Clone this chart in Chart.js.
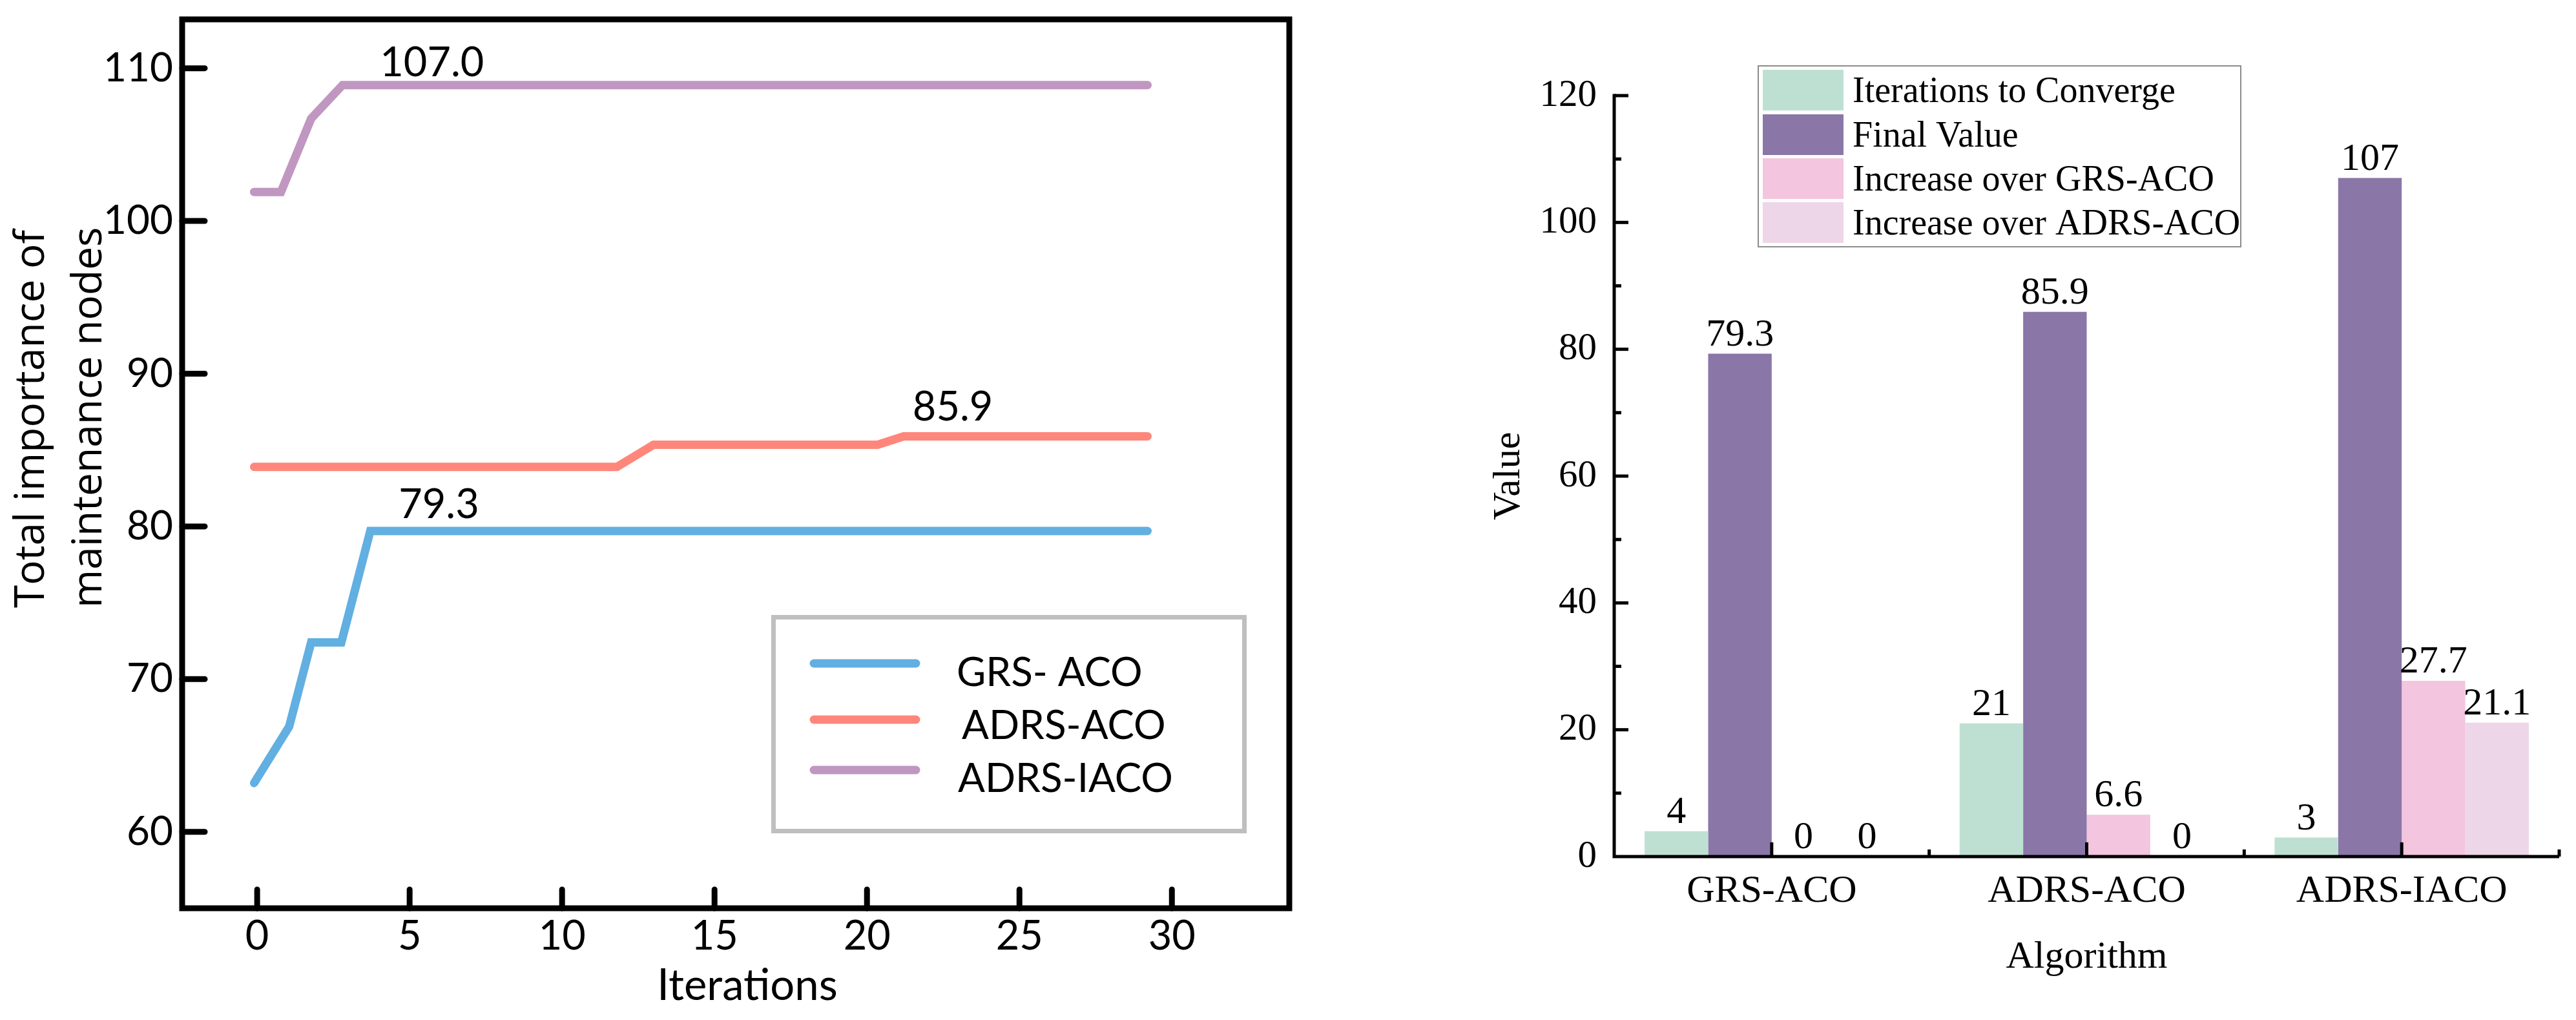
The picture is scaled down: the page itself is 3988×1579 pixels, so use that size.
<!DOCTYPE html>
<html>
<head>
<meta charset="utf-8">
<script src="https://cdn.jsdelivr.net/npm/chart.js@4.4.1/dist/chart.umd.min.js"></script>
<style>
  html, body { margin: 0; padding: 0; background: #fff; }
  #wrap { position: relative; width: 3988px; height: 1579px; overflow: hidden; }
  #lineBox { position: absolute; left: 0; top: 0; width: 2002px; height: 1579px; }
  #barBox { position: absolute; left: 2000px; top: 0; width: 1988px; height: 1579px; }
</style>
</head>
<body>
<div id="wrap">
  <div id="lineBox"><canvas id="lineCanvas" width="2002" height="1579"></canvas></div>
  <div id="barBox"><canvas id="barCanvas" width="1988" height="1579"></canvas></div>
</div>
<script>
// Left chart: convergence curves (vertices)
const grsX = [-0.1, 1.05, 1.77, 2.76, 3.71, 29.2];
const grsY = [63.2, 66.9, 72.4, 72.4, 79.7, 79.7];
const adrsX = [-0.1, 11.8, 13.0, 20.35, 21.2, 29.2];
const adrsY = [83.9, 83.9, 85.35, 85.35, 85.9, 85.9];
const iacoX = [-0.1, 0.78, 1.77, 2.8, 29.2];
const iacoY = [101.9, 101.9, 106.7, 108.9, 108.9];
const lineNames = ['GRS- ACO', 'ADRS-ACO', 'ADRS-IACO'];
const finalTags = ['79.3', '85.9', '107.0'];

// Right chart: comparison bars
const algorithms = ['GRS-ACO', 'ADRS-ACO', 'ADRS-IACO'];
const iterationsToConverge = [4, 21, 3];
const finalValue = [79.3, 85.9, 107];
const increaseOverGrs = [0, 6.6, 27.7];
const increaseOverAdrs = [0, 0, 21.1];
const barNames = ['Iterations to Converge', 'Final Value', 'Increase over GRS-ACO', 'Increase over ADRS-ACO'];

const sans = 'Lato, "Open Sans", sans-serif';
const serif = '"Liberation Serif", "Times New Roman", serif';

function pts(xs, ys) {
    return xs.map((x, i) => ({ x: x, y: ys[i] }));
}

// keep the plot area exactly where the layout padding puts it
function fixBox(size) {
    return function (s) {
        if (s.isHorizontal()) s.height = size; else s.width = size;
        s.paddingTop = 0; s.paddingBottom = 0; s.paddingLeft = 0; s.paddingRight = 0;
    };
}

// frame, inward ticks, legend, titles and value tags for the line chart
const lineDecor = {
    id: 'lineDecor',
    afterDraw(chart) {
        const ctx = chart.ctx;
        const a = chart.chartArea;
        const xs = chart.scales.x, ys = chart.scales.y;
        ctx.save();
        ctx.strokeStyle = '#000';
        ctx.lineCap = 'round';
        ctx.lineWidth = 9;
        ys.ticks.forEach(t => {
            const p = ys.getPixelForValue(t.value);
            ctx.beginPath(); ctx.moveTo(a.left, p); ctx.lineTo(a.left + 35, p); ctx.stroke();
        });
        xs.ticks.forEach(t => {
            const p = xs.getPixelForValue(t.value);
            ctx.beginPath(); ctx.moveTo(p, a.bottom); ctx.lineTo(p, a.bottom - 29); ctx.stroke();
        });
        ctx.lineCap = 'butt';
        ctx.strokeRect(a.left, a.top, a.right - a.left, a.bottom - a.top);

        // legend
        ctx.strokeStyle = '#BFBFBF';
        ctx.lineWidth = 7;
        ctx.strokeRect(1197.5, 955.5, 729, 331);
        const rowY = [1027, 1114, 1192];
        const textY = [1042, 1124, 1206];
        const textX = [1481, 1489, 1483];
        ctx.lineCap = 'round';
        ctx.lineWidth = 13;
        ctx.font = '62px ' + sans;
        ctx.textBaseline = 'middle';
        ctx.textAlign = 'left';
        chart.data.datasets.forEach((ds, i) => {
            ctx.strokeStyle = ds.borderColor;
            ctx.beginPath(); ctx.moveTo(1260, rowY[i]); ctx.lineTo(1418, rowY[i]); ctx.stroke();
            ctx.fillStyle = '#000';
            ctx.fillText(ds.label, textX[i], textY[i]);
        });

        // value tags next to the convergence points
        const anchors = [[0, 4, 44, -40], [1, 4, 14, -45], [2, 3, 58, -34]];
        ctx.font = '63px ' + sans;
        anchors.forEach(([d, idx, dx, dy]) => {
            const el = chart.getDatasetMeta(d).data[idx];
            ctx.fillText(finalTags[d], el.x + dx, el.y + dy);
        });

        // x axis title
        ctx.font = '67px ' + sans;
        ctx.textAlign = 'center';
        ctx.fillText('Iterations', 1157, 1526);

        // two-line y axis title
        ctx.font = '64px "Open Sans", sans-serif';
        ctx.textAlign = 'left';
        ctx.textBaseline = 'alphabetic';
        ctx.translate(68, 941);
        ctx.rotate(-Math.PI / 2);
        ctx.fillText('Total importance of', 0, 0);
        ctx.fillText('maintenance nodes', 0, 89);
        ctx.restore();
    }
};

new Chart(document.getElementById('lineCanvas'), {
    type: 'line',
    data: {
        datasets: [
            { label: lineNames[0], data: pts(grsX, grsY), borderColor: '#62AFE2' },
            { label: lineNames[1], data: pts(adrsX, adrsY), borderColor: '#FF867B' },
            { label: lineNames[2], data: pts(iacoX, iacoY), borderColor: '#C097C1' }
        ]
    },
    options: {
        responsive: false,
        animation: false,
        devicePixelRatio: 1,
        layout: { padding: { top: 30, right: 6, left: 0, bottom: 0 } },
        elements: {
            line: { borderWidth: 13, tension: 0, borderCapStyle: 'round', borderJoinStyle: 'miter', fill: false },
            point: { radius: 0, hoverRadius: 0 }
        },
        plugins: { legend: { display: false }, tooltip: { enabled: false } },
        scales: {
            x: {
                type: 'linear',
                min: -2.46,
                max: 33.85,
                grid: { display: false, drawTicks: false },
                border: { display: false },
                ticks: { stepSize: 5, includeBounds: false, color: '#000', padding: 6, font: { family: sans, size: 63 } },
                afterFit: fixBox(173)
            },
            y: {
                min: 55,
                max: 113.2,
                grid: { display: false, drawTicks: false },
                border: { display: false },
                ticks: { stepSize: 10, includeBounds: false, color: '#000', padding: 14, font: { family: sans, size: 62 } },
                afterFit: fixBox(282)
            }
        }
    },
    plugins: [lineDecor]
});

// axes, inward ticks, legend and bar value labels for the bar chart
const barDecor = {
    id: 'barDecor',
    afterDraw(chart) {
        const ctx = chart.ctx;
        const a = chart.chartArea;
        const xs = chart.scales.x, ys = chart.scales.y;
        ctx.save();
        ctx.strokeStyle = '#000';
        ctx.lineWidth = 5;
        ctx.beginPath();
        ctx.moveTo(a.left, ys.getPixelForValue(120) - 2.5);
        ctx.lineTo(a.left, a.bottom);
        ctx.lineTo(a.right, a.bottom);
        ctx.stroke();
        for (let v = 10; v <= 120; v += 10) {
            const p = ys.getPixelForValue(v);
            const len = v % 20 === 0 ? 22 : 11;
            ctx.beginPath(); ctx.moveTo(a.left, p); ctx.lineTo(a.left + len, p); ctx.stroke();
        }
        chart.data.labels.forEach((lab, i) => {
            let p = xs.getPixelForValue(i);
            ctx.beginPath(); ctx.moveTo(p, a.bottom); ctx.lineTo(p, a.bottom - 22); ctx.stroke();
            p = xs.getPixelForValue(i + 0.5);
            ctx.beginPath(); ctx.moveTo(p, a.bottom); ctx.lineTo(p, a.bottom - 11); ctx.stroke();
        });

        // value labels
        ctx.fillStyle = '#000';
        ctx.font = '60px ' + serif;
        ctx.textAlign = 'center';
        ctx.textBaseline = 'alphabetic';
        chart.data.datasets.forEach((ds, d) => {
            chart.getDatasetMeta(d).data.forEach((bar, i) => {
                ctx.fillText(String(ds.data[i]), bar.x, bar.y - 13);
            });
        });

        // legend
        ctx.strokeStyle = '#8C8C8C';
        ctx.lineWidth = 2;
        ctx.strokeRect(722, 102, 747, 280);
        const rowTop = [108, 177, 245, 313];
        ctx.font = '56px ' + serif;
        ctx.textAlign = 'left';
        chart.data.datasets.forEach((ds, d) => {
            ctx.fillStyle = ds.backgroundColor;
            ctx.fillRect(729, rowTop[d], 125, 63);
            ctx.fillStyle = '#000';
            ctx.fillText(ds.label, 868, rowTop[d] + 31.5 + 18);
        });
        ctx.restore();
    }
};

new Chart(document.getElementById('barCanvas'), {
    type: 'bar',
    data: {
        labels: algorithms,
        datasets: [
            { label: barNames[0], data: iterationsToConverge, backgroundColor: '#BEE0D2' },
            { label: barNames[1], data: finalValue, backgroundColor: '#8B76A8' },
            { label: barNames[2], data: increaseOverGrs, backgroundColor: '#F3C5DF' },
            { label: barNames[3], data: increaseOverAdrs, backgroundColor: '#EDD6E8' }
        ]
    },
    options: {
        responsive: false,
        animation: false,
        devicePixelRatio: 1,
        layout: { padding: { top: 148, right: 26, left: 0, bottom: 0 } },
        datasets: { bar: { barPercentage: 1, categoryPercentage: 0.807, borderWidth: 0 } },
        plugins: { legend: { display: false }, tooltip: { enabled: false } },
        scales: {
            x: {
                grid: { display: false, drawTicks: false },
                border: { display: false },
                ticks: { color: '#000', padding: 18, font: { family: serif, size: 60 } },
                title: { display: true, text: 'Algorithm', color: '#000', font: { family: serif, size: 60 }, padding: { top: 0, bottom: 61 } },
                afterFit: fixBox(253)
            },
            y: {
                min: 0,
                max: 120,
                grid: { display: false, drawTicks: false },
                border: { display: false },
                ticks: { stepSize: 20, color: '#000', padding: 27, font: { family: serif, size: 59 } },
                title: { display: true, text: 'Value', color: '#000', font: { family: serif, size: 60 }, padding: { top: 300, bottom: 0 } },
                afterFit: fixBox(499)
            }
        }
    },
    plugins: [barDecor]
});
</script>
</body>
</html>
